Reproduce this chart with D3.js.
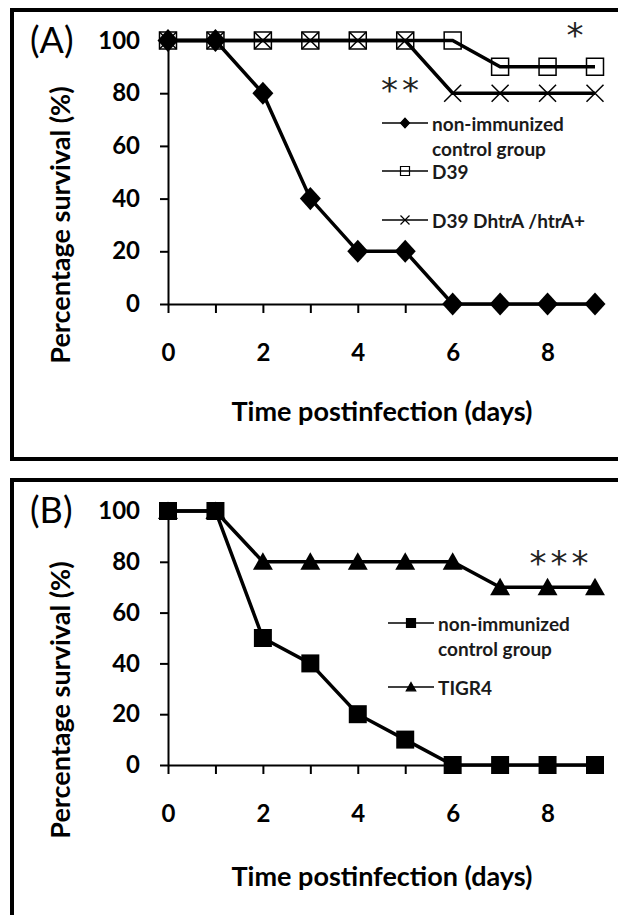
<!DOCTYPE html>
<html>
	<head>
		<meta charset="utf-8">
		<style type="text/css">
			body { margin: 0; background: #fff; }
			svg { display: block; }
			text { font-family: Lato, "Open Sans", sans-serif; fill: #000; }
			.tick text { font-size: 24px; font-weight: bold; }
			.tick line, .domain { stroke: #000; stroke-width: 2px; }
			.title { font-size: 27px; font-weight: bold; }
			.legend text { font-size: 19px; font-weight: bold; fill: #1a1a1a; }
			.star { font-family: "DejaVu Sans", sans-serif; font-size: 34px; letter-spacing: 4px; fill: #222; }
		</style>
		<title>Survival</title>
	</head>
	<body>
		<script src="https://cdn.jsdelivr.net/npm/d3@7"></script>
		<script>

		// days after infection
		var days = [0, 1, 2, 3, 4, 5, 6, 7, 8, 9];
		var yTicks = [0, 20, 40, 60, 80, 100];
		var xLabels = [0, 2, 4, 6, 8];

		// panel A, % survival
		var aControl = [100, 100, 80, 40, 20, 20, 0, 0, 0, 0];
		var aD39 = [100, 100, 100, 100, 100, 100, 100, 90, 90, 90];
		var aHtrA = [100, 100, 100, 100, 100, 100, 80, 80, 80, 80];

		// panel B, % survival
		var bControl = [100, 100, 50, 40, 20, 10, 0, 0, 0, 0];
		var bTIGR4 = [100, 100, 80, 80, 80, 80, 80, 70, 70, 70];

		var legendA = ["non-immunized|control group", "D39", "D39 DhtrA /htrA+"];
		var legendB = ["non-immunized|control group", "TIGR4"];

		var W = 618, H = 915;

		var svg = d3.select("body").append("svg")
			.attr("width", W)
			.attr("height", H);

		// marker shapes, centred on 0,0
		var shapes = {
			diamond: function(s){ return "M0,"+(-s*1.1)+"L"+s+",0L0,"+(s*1.1)+"L"+(-s)+",0Z"; },
			square: function(s){ return "M"+(-s)+","+(-s)+"h"+(2*s)+"v"+(2*s)+"h"+(-2*s)+"Z"; },
			cross: function(s){ return "M"+(-s)+","+(-s)+"L"+s+","+s+"M"+(-s)+","+s+"L"+s+","+(-s); },
			triangle: function(s){ return "M0,"+(-s)+"L"+(s*1.05)+","+(s*0.85)+"L"+(-s*1.05)+","+(s*0.85)+"Z"; }
		};

		function panel(p) {
			svg.append("rect")
				.attr("x", 12).attr("y", p.top)
				.attr("width", 640).attr("height", p.boxH)
				.attr("fill", "none").attr("stroke", "#000").attr("stroke-width", 4);

			var x = d3.scaleLinear().domain([0, 9]).range([168, 595]);
			var y = d3.scaleLinear().domain([0, 100]).range([p.y0, p.y100]);

			var g = svg.append("g");

			g.append("g")
				.attr("transform", "translate(0," + p.y0 + ")")
				.call(d3.axisBottom(x).tickValues(days).tickSize(9).tickSizeOuter(0).tickPadding(31)
					.tickFormat(function(d){ return xLabels.indexOf(d) >= 0 ? d : ""; }));

			g.append("g")
				.attr("transform", "translate(168,0)")
				.call(d3.axisLeft(y).tickValues(yTicks).tickSize(8).tickSizeOuter(0).tickPadding(20));

			g.append("text").attr("class", "title")
				.attr("x", 382).attr("y", p.xTitle)
				.attr("text-anchor", "middle").attr("dominant-baseline", "central")
				.text("Time postinfection (days)");

			g.append("text").attr("class", "title")
				.attr("transform", "translate(59," + p.yTitle + ") rotate(-90)")
				.attr("text-anchor", "middle").attr("dominant-baseline", "central")
				.text("Percentage survival (%)");

			g.append("text")
				.attr("x", 30).attr("y", p.y100 - 2)
				.attr("dominant-baseline", "central")
				.style("font-size", "36px")
				.text(p.label);

			var line = d3.line()
				.x(function(d, i){ return x(days[i]); })
				.y(function(d){ return y(d); });

			p.series.forEach(function(s) {
				g.append("path")
					.attr("d", line(s.values))
					.attr("fill", "none").attr("stroke", "#000").attr("stroke-width", 3.5);
				g.selectAll(null).data(s.values).enter()
					.append("path")
					.attr("transform", function(d, i){ return "translate(" + x(days[i]) + "," + y(d) + ")"; })
					.attr("d", shapes[s.shape](s.size))
					.attr("fill", s.fill)
					.attr("stroke", "#000")
					.attr("stroke-width", s.sw);
			});

			// legend
			var lg = g.append("g").attr("class", "legend");
			p.legend.forEach(function(name, i) {
				var s = p.series.filter(function(d){ return d.name == name; })[0];
				var ly = p.legY[i];
				lg.append("line")
					.attr("x1", p.legX).attr("x2", p.legX + 46)
					.attr("y1", ly).attr("y2", ly)
					.attr("stroke", "#000").attr("stroke-width", 1.5);
				lg.append("path")
					.attr("transform", "translate(" + (p.legX + 23) + "," + ly + ")")
					.attr("d", shapes[s.shape](4.5))
					.attr("fill", s.fill).attr("stroke", "#000").attr("stroke-width", 1.2);
				name.split("|").forEach(function(t, j) {
					lg.append("text")
						.attr("x", p.legX + 50).attr("y", ly + j * 25)
						.attr("dominant-baseline", "central")
						.text(t);
				});
			});

			// significance marks
			p.stars.forEach(function(st) {
				g.append("text").attr("class", "star")
					.attr("x", st.x).attr("y", st.y + 19)
					.attr("text-anchor", "middle")
					.text(st.text);
			});
		}

		panel({
			label: "(A)", top: 10, boxH: 449,
			y0: 304, y100: 40.5, xTitle: 410, yTitle: 225,
			series: [
				{ name: legendA[0], values: aControl, shape: "diamond", size: 10.5, fill: "#000", sw: 0 },
				{ name: legendA[1], values: aD39, shape: "square", size: 8.5, fill: "none", sw: 1.5 },
				{ name: legendA[2], values: aHtrA, shape: "cross", size: 8.5, fill: "none", sw: 1.5 }
			],
			legend: legendA, legX: 382, legY: [123, 171, 220],
			stars: [ { x: 577, y: 28, text: "*" }, { x: 402, y: 83, text: "**" } ]
		});

		panel({
			label: "(B)", top: 480, boxH: 500,
			y0: 765, y100: 511, xTitle: 875, yTitle: 700,
			series: [
				{ name: legendB[1], values: bTIGR4, shape: "triangle", size: 9.5, fill: "#000", sw: 0 },
				{ name: legendB[0], values: bControl, shape: "square", size: 9, fill: "#000", sw: 0 }
			],
			legend: legendB, legX: 388, legY: [623, 687],
			stars: [ { x: 561, y: 556, text: "***" } ]
		});

		</script>
	</body>
</html>
